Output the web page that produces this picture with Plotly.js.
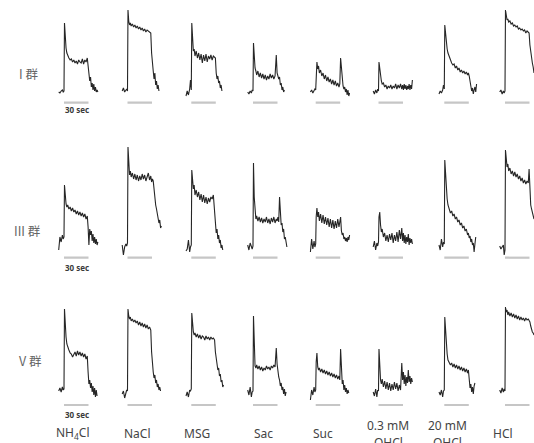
<!DOCTYPE html>
<html>
<head>
<meta charset="utf-8">
<script src="https://cdn.plot.ly/plotly-3.0.1.min.js"></script>
<style>html,body{margin:0;padding:0;background:#fff;}#chart{width:534px;height:443px;}</style>
</head>
<body>
<div id="chart"></div>
<script>
// ---------- DATA ----------
// time (s) relative to stimulus onset
const times = [-6.5,-5,-3.5,-2,-1,0,0.6,1.5,2.5,3.5,4.5,6,7.5,9,10.5,12,13.5,15,16.5,18,19.5,21,22.5,24,25.5,27,28.5,29.5,30.5,31.5,32.5,33.5,34.5,35.5,36.5,37.5,38.5,39.5,40.5,41.5];
// stimulus period (s)
const stimulus = [0, 30];

const groups = ['I 群', 'III 群', 'V 群'];
const tastantsLine1 = ['NH<sub>4</sub>Cl', 'NaCl', 'MSG', 'Sac', 'Suc', '0.3 mM', '20 mM', 'HCl'];
const tastantsLine2 = ['', '', '', '', '', 'QHCl', 'QHCl', ''];
const scaleLabel = '30 sec';

// Group I responses (relative amplitude)
const I_NH4Cl = [1,0,2,3,1,2, 70,55,45,40,37, 35,33,34,31,33,30,32,29,33,31, 30,34,29,33,31,35,28, 18,12,16,6,10,3,9,2,6,1,3,1];
const I_NaCl = [2,5,1,3,4,2, 83,72,68,70,67, 69,66,68,65,67,64,66,63,65,62, 64,61,63,62,61,60,40, 25,22,14,20,8,12,4,8,2,null,null,null];
const I_MSG = [-3,2,-2,4,13,3, 70,50,42,44,37, 42,35,40,33,39,30,38,32,39,31, 37,34,38,33,37,36,35, 20,14,17,10,12,5,8,2,null,null,null,null];
const I_Sac = [1,-1,2,0,3,2, 50,35,25,22,18, 22,16,20,15,19,14,18,13,17,14, 19,15,18,14,17,38,20, 18,14,16,8,10,3,6,1,3,null,null,null];
const I_Suc = [1,3,0,2,4,3, 28,31,24,27,20, 23,17,20,14,18,12,16,11,14,9, 13,8,12,7,10,6,9, 35,22,12,7,4,6,1,4,-2,3,-3,0];
const I_QHCl03 = [2,-1,3,0,4,2, 31,24,16,12,9, 10,6,8,4,7,5,8,4,7,5, 9,4,8,5,9,4,8, 3,9,4,8,3,7,4,9,3,8,4,13];
const I_QHCl20 = [-1,2,0,3,8,4, 68,58,50,44,40, 36,32,30,28,29,25,27,23,25,21, 23,20,22,19,21,18,20, 17,12,8,2,5,-1,3,6,1,9,null,null];
const I_HCl = [1,3,-1,2,0,2, 83,76,73,74,71, 72,69,70,67,68,66,67,64,65,63, 64,62,63,60,62,61,60, 48,40,35,30,26,20,null,null,null,null,null,null];

// Group III responses
const III_NH4Cl = [-3,10,5,12,8,10, 62,50,43,40,42, 38,40,36,39,35,37,33,36,32,35, 31,34,30,33,28,31,20, 2,18,12,16,6,13,4,10,3,8,2,5];
const III_NaCl = [2,-8,0,3,1,4, 100,82,72,76,70, 74,68,73,67,72,66,71,67,73,68, 72,66,70,74,67,71,65, 68,66,55,48,42,38,32,28,24,27,19,21];
const III_MSG = [-4,-2,7,-5,0,2, 77,65,58,62,52, 57,50,55,47,53,45,52,44,50,43, 49,45,50,48,52,30,20, 14,18,8,12,4,7,-1,2,-3,null,null,null];
const III_Sac = [2,-3,4,0,-2,1, 84,50,32,28,31, 26,30,25,29,24,28,25,30,24,28, 23,29,25,30,24,28,26, 30,25,50,28,22,24,15,18,8,10,2,0];
const III_Suc = [-5,8,-2,6,0,3, 30,39,30,35,26, 33,24,32,23,30,22,29,20,28,19, 27,18,26,19,28,20,24, 30,16,12,14,8,10,6,9,5,10,7,12];
const III_QHCl03 = [0,6,-3,4,1,5, 30,35,22,15,18, 10,14,6,12,5,13,7,14,4,12, 6,15,5,17,8,19,6, 14,4,12,3,10,5,13,2,9,4,8,3];
const III_QHCl20 = [2,-3,8,0,5,3, 87,70,58,48,42, 38,34,36,31,33,28,30,25,27,22, 24,19,21,16,18,12,14, 9,11,5,8,2,4,-5,3,10,null,null,null];
const III_HCl = [1,-2,0,2,-8,-3, 97,86,80,83,76, 79,73,76,71,75,70,73,68,71,66, 69,64,67,63,66,64,78, 55,42,38,34,30,28,null,null,null,null,null,null];

// Group V responses
const V_NH4Cl = [1,4,0,5,2,3, 83,65,55,48,45, 42,39,38,35,38,40,36,41,37,40, 36,39,35,38,33,36,20, 8,12,4,9,0,6,-3,4,-5,2,-4,null];
const V_NaCl = [-2,1,-6,0,2,1, 83,76,73,75,71, 73,70,72,69,71,67,70,66,69,65, 68,64,67,63,65,62,40, 25,20,14,17,9,12,5,8,2,5,1,null];
const V_MSG = [-4,0,-5,2,1,3, 79,68,60,57,59, 55,58,54,57,53,56,55,52,56,53, 55,52,55,53,54,52,40, 33,28,22,24,16,18,10,12,5,7,null,null];
const V_Sac = [2,-3,5,-5,0,1, 76,40,26,24,27, 23,26,22,25,21,24,22,26,23,25, 22,26,24,27,25,44,28, 20,15,12,6,9,2,5,-2,3,-4,0,null];
const V_Suc = [-8,2,-3,5,0,2, 30,39,25,22,24, 20,23,19,22,18,21,17,20,16,19, 15,18,14,17,13,16,12, 43,18,8,12,2,7,0,4,-2,2,-1,null];
const V_QHCl03 = [0,-4,3,-5,2,1, 43,25,12,8,13, 5,11,3,10,2,9,1,8,2,10, 3,9,1,7,2,29,12, 20,8,17,6,15,9,22,10,16,8,14,10];
const V_QHCl20 = [0,-3,2,-5,1,2, 75,60,48,38,32, 30,27,29,25,28,24,27,23,26,22, 25,21,24,20,23,19,22, 10,4,8,0,5,-2,6,9,null,null,null,null];
const V_HCl = [2,-1,4,0,3,1, 85,80,82,77,80, 76,79,75,78,74,77,73,76,72,75, 72,74,71,74,72,73,71, 70,66,62,60,59,57,null,null,null,null,null,null];

const rows = [
  [I_NH4Cl, I_NaCl, I_MSG, I_Sac, I_Suc, I_QHCl03, I_QHCl20, I_HCl],
  [III_NH4Cl, III_NaCl, III_MSG, III_Sac, III_Suc, III_QHCl03, III_QHCl20, III_HCl],
  [V_NH4Cl, V_NaCl, V_MSG, V_Sac, V_Suc, V_QHCl03, V_QHCl20, V_HCl]
];

// ---------- LAYOUT GEOMETRY (pixels) ----------
const W = 534, H = 443;
const PX_PER_SEC = 24.5 / 30;
const onsetPx = [64, 127.5, 191.3, 253, 315.7, 378.5, 444.3, 505];
const rowGeom = [
  {top: 5, bottom: 108, base: 93, bar: 102.7, label: 74, scale: 110},
  {top: 138, bottom: 262, base: 247, bar: 257.7, label: 230, scale: 267},
  {top: 298, bottom: 412, base: 392, bar: 405, label: 360, scale: 414}
];
const rowLabelX = [28, 27.5, 30];
const X_MIN = -8, X_MAX = 43;

const traces = [];
const layout = {
  width: W, height: H,
  margin: {l: 0, r: 0, t: 0, b: 0, pad: 0},
  paper_bgcolor: '#ffffff', plot_bgcolor: 'rgba(0,0,0,0)',
  showlegend: false,
  annotations: []
};

rows.forEach((series, r) => {
  const g = rowGeom[r];
  series.forEach((y, c) => {
    const k = r * 8 + c + 1;
    const xa = 'xaxis' + (k === 1 ? '' : k);
    const ya = 'yaxis' + (k === 1 ? '' : k);
    let leftPx = onsetPx[c] + X_MIN * PX_PER_SEC;
    let rightPx = onsetPx[c] + X_MAX * PX_PER_SEC;
    let xmax = X_MAX;
    if (rightPx > W) { rightPx = W; xmax = (W - onsetPx[c]) / PX_PER_SEC; }
    layout[xa] = {domain: [leftPx / W, rightPx / W], range: [X_MIN, xmax], visible: false, fixedrange: true, anchor: 'y' + k};
    layout[ya] = {domain: [1 - g.bottom / H, 1 - g.top / H], range: [g.base - g.bottom, g.base - g.top], visible: false, fixedrange: true, anchor: 'x' + k};
    const barLevel = g.base - g.bar;
    traces.push({
      x: stimulus, y: [barLevel, barLevel], xaxis: 'x' + k, yaxis: 'y' + k,
      mode: 'lines', line: {color: '#c6c6c6', width: 2.2}, hoverinfo: 'skip'
    });
    traces.push({
      x: times, y: y, xaxis: 'x' + k, yaxis: 'y' + k,
      mode: 'lines', line: {color: '#262626', width: 1.1}, connectgaps: false, hoverinfo: 'skip'
    });
  });
  // group label
  layout.annotations.push({
    text: groups[r], xref: 'paper', yref: 'paper', x: rowLabelX[r] / W, y: 1 - g.label / H,
    xanchor: 'center', yanchor: 'middle', showarrow: false,
    font: {family: 'Noto Sans CJK SC, Noto Sans, sans-serif', size: 12.5, color: '#666666'}
  });
  // scale label
  layout.annotations.push({
    text: scaleLabel, xref: 'paper', yref: 'paper', x: 77 / W, y: 1 - g.scale / H,
    xanchor: 'center', yanchor: 'middle', showarrow: false,
    font: {family: 'Noto Sans, sans-serif', size: 8, color: '#3a3a3a', weight: 'bold'}
  });
});

const labelX = [73, 137, 197, 263, 323, 388, 447, 503];
tastantsLine1.forEach((t, c) => {
  const two = tastantsLine2[c] !== '';
  layout.annotations.push({
    text: t, xref: 'paper', yref: 'paper', x: labelX[c] / W, y: 1 - (two ? 425 : 433) / H,
    xanchor: 'center', yanchor: 'middle', showarrow: false,
    font: {family: 'Noto Sans, sans-serif', size: 12, color: '#444444'}
  });
  if (two) {
    layout.annotations.push({
      text: tastantsLine2[c], xref: 'paper', yref: 'paper', x: labelX[c] / W, y: 1 - 442 / H,
      xanchor: 'center', yanchor: 'middle', showarrow: false,
      font: {family: 'Noto Sans, sans-serif', size: 12, color: '#444444'}
    });
  }
});

Plotly.newPlot('chart', traces, layout, {staticPlot: true, displayModeBar: false});
</script>
</body>
</html>
